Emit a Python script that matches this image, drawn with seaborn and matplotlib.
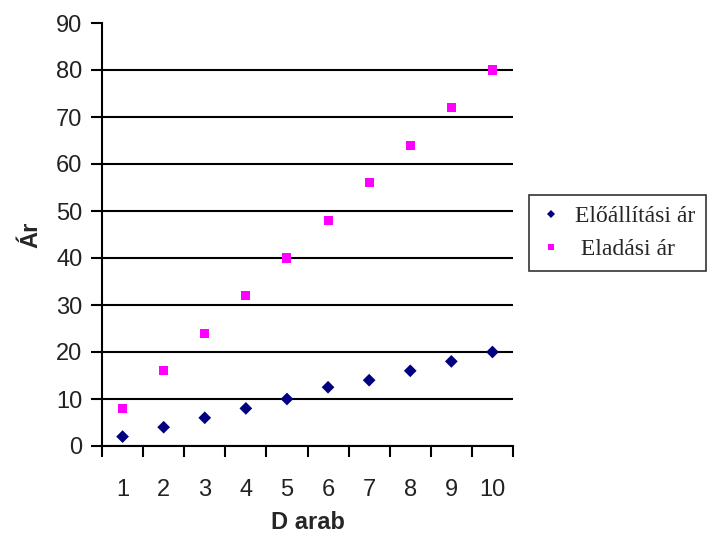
import matplotlib
matplotlib.use("Agg")
import matplotlib.pyplot as plt
import seaborn as sns
import pandas as pd
from matplotlib.ticker import FixedLocator

darab = [1, 2, 3, 4, 5, 6, 7, 8, 9, 10]
eloallitasi_ar = [2, 4, 6, 8, 10, 12.5, 14, 16, 18, 20]
eladasi_ar = [8, 16, 24, 32, 40, 48, 56, 64, 72, 80]
series_names = ["Előállítási ár", "Eladási ár"]
y_ticks = [0, 10, 20, 30, 40, 50, 60, 70, 80, 90]

df = pd.DataFrame({
    "Darab": darab * 2,
    "Ár": eloallitasi_ar + eladasi_ar,
    "Sorozat": [series_names[0]] * len(darab) + [series_names[1]] * len(darab),
})

sns.set_style("white")
plt.rcParams["font.family"] = ["Liberation Sans", "DejaVu Sans"]

fig = plt.figure(figsize=(7.09, 5.36), dpi=100)
ax = fig.add_axes([102 / 709, (536 - 446) / 536, (513 - 102) / 709, (446 - 23) / 536])

sns.scatterplot(
    data=df, x="Darab", y="Ár", hue="Sorozat", style="Sorozat",
    palette={series_names[0]: "#000080", series_names[1]: "#FF00FF"},
    markers={series_names[0]: "D", series_names[1]: "s"},
    s=42, linewidth=0, ax=ax, zorder=3, legend=True,
)

ax.set_xlim(0.5, 10.5)
ax.set_ylim(0, 90)
ax.set_yticks(y_ticks)
ax.set_xticks(darab)
ax.set_xticklabels([str(d) for d in darab])
ax.xaxis.set_minor_locator(FixedLocator([d - 0.5 for d in darab] + [darab[-1] + 0.5]))

for s in ["top", "right"]:
    ax.spines[s].set_visible(False)
for s in ["left", "bottom"]:
    ax.spines[s].set_linewidth(1.5)
    ax.spines[s].set_color("black")

ax.yaxis.grid(True, color="black", linewidth=1.5)
ax.set_axisbelow(True)
gl = ax.get_ygridlines()
gl[-1].set_visible(False)

ax.tick_params(axis="y", which="major", direction="out", length=8, width=1.5,
               color="black", labelsize=17, labelcolor="#222222", pad=6, left=True)
ax.tick_params(axis="x", which="major", length=0, labelsize=17, labelcolor="#222222", pad=24)
ax.tick_params(axis="x", which="minor", direction="out", length=8, width=1.5,
               color="black", bottom=True)

ax.set_xlabel("D arab", fontsize=17, fontweight="bold", labelpad=7)
ax.set_ylabel("Ár", fontsize=17, fontweight="bold", labelpad=10)

handles, labels = ax.get_legend_handles_labels()
ax.legend_.remove()
labels = [labels[0], " " + labels[1]]
leg = fig.legend(handles, labels, loc="upper left",
                 bbox_to_anchor=(529 / 709, (536 - 195) / 536),
                 bbox_transform=fig.transFigure, frameon=True, fancybox=False,
                 edgecolor="black", borderaxespad=0, prop={"family": "Liberation Serif", "size": 17},
                 handletextpad=0.5, borderpad=0.45, labelspacing=0.5, handlelength=1.0,
                 markerscale=0.7)
leg.get_frame().set_linewidth(1.2)

fig.savefig("out.png", dpi=100)
